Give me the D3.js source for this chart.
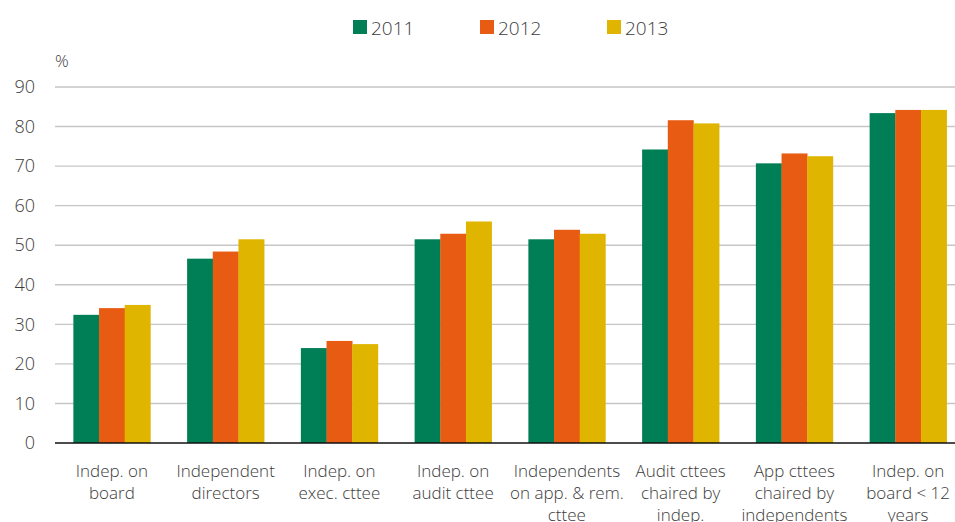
<!DOCTYPE html>
<html>
<head>
<meta charset="utf-8">
<script src="https://cdn.jsdelivr.net/npm/d3@7"></script>
<style>
  html, body { margin: 0; padding: 0; background: #ffffff; }
  svg { display: block; }
  text { font-family: "Open Sans", "Noto Sans", sans-serif; font-weight: 300; fill: #3c3c3c; }
</style>
</head>
<body>
<svg id="chart" width="955" height="522"></svg>
<script>
// Board independence indicators, share in %, by year
const categories = [
  ["Indep. on", "board"],
  ["Independent", "directors"],
  ["Indep. on", "exec. cttee"],
  ["Indep. on", "audit cttee"],
  ["Independents", "on app. & rem.", "cttee"],
  ["Audit cttees", "chaired by", "indep."],
  ["App cttees", "chaired by", "independents"],
  ["Indep. on", "board < 12", "years"]
];
const years = ["2011", "2012", "2013"];
const values2011 = [32.4, 46.6, 24.0, 51.5, 51.5, 74.2, 70.7, 83.4];
const values2012 = [34.1, 48.4, 25.8, 52.9, 53.9, 81.6, 73.2, 84.2];
const values2013 = [34.9, 51.5, 25.0, 56.0, 52.9, 80.8, 72.5, 84.2];
const yTicks = [0, 10, 20, 30, 40, 50, 60, 70, 80, 90];
const colors = ["#007f56", "#e85b12", "#dfb500"];

const series = [values2011, values2012, values2013];
const catKeys = categories.map(c => c.join(" "));

const svg = d3.select("#chart");
const W = 955;
const plotLeft = 55, plotRight = 965, plotTop = 87, plotBottom = 443;

const y = d3.scaleLinear().domain([0, 90]).range([plotBottom, plotTop]);
const x0 = d3.scaleBand().domain(catKeys).range([plotLeft, plotRight]).paddingInner(0.323).paddingOuter(0.1615);
const x1 = d3.scaleBand().domain(years).range([0, x0.bandwidth()]);
const color = d3.scaleOrdinal().domain(years).range(colors);

// Horizontal gridlines
const grid = svg.append("g");
grid.selectAll("line").data(yTicks.filter(t => t > 0)).join("line")
  .attr("x1", plotLeft).attr("x2", W)
  .attr("y1", d => y(d)).attr("y2", d => y(d))
  .attr("stroke", "#c6c6c6").attr("stroke-width", 1.4);

// Y axis labels
const yAxis = d3.axisLeft(y).tickValues(yTicks).tickSize(0).tickPadding(0);
const gy = svg.append("g").attr("transform", "translate(35,0)").call(yAxis);
gy.select(".domain").remove();
gy.selectAll("text").attr("font-size", 18).attr("fill", "#3c3c3c")
  .style("font-family", '"Open Sans", "Noto Sans", sans-serif').style("font-weight", 300);

svg.append("text").attr("x", 55).attr("y", 67).attr("font-size", 17).text("%");

// Bars
const groups = svg.append("g").selectAll("g").data(catKeys).join("g")
  .attr("transform", d => `translate(${x0(d)},0)`);
groups.selectAll("rect")
  .data((d, i) => years.map((yr, s) => ({ yr, v: series[s][i] })))
  .join("rect")
  .attr("x", d => x1(d.yr))
  .attr("width", x1.bandwidth() + 0.3)
  .attr("y", d => y(d.v))
  .attr("height", d => plotBottom - y(d.v))
  .attr("fill", d => color(d.yr));

// Baseline
svg.append("line").attr("x1", plotLeft).attr("x2", W)
  .attr("y1", plotBottom).attr("y2", plotBottom)
  .attr("stroke", "#111").attr("stroke-width", 1.6);

// Category labels
const labels = svg.append("g").selectAll("text").data(categories).join("text")
  .attr("text-anchor", "middle")
  .attr("font-size", 17)
  .attr("x", (d, i) => x0(catKeys[i]) + x0.bandwidth() / 2)
  .attr("y", 477);
labels.selectAll("tspan").data(d => d).join("tspan")
  .attr("x", function () { return this.parentNode.getAttribute("x"); })
  .attr("dy", (d, i) => i === 0 ? 0 : 22)
  .text(d => d);

// Legend
const legendX = [353, 480, 607];
const lg = svg.append("g").selectAll("g").data(years).join("g")
  .attr("transform", (d, i) => `translate(${legendX[i]},20)`);
lg.append("rect").attr("width", 14).attr("height", 14).attr("fill", d => color(d));
lg.append("text").attr("x", 18).attr("y", 15).attr("font-size", 19).text(d => d);
</script>
</body>
</html>
